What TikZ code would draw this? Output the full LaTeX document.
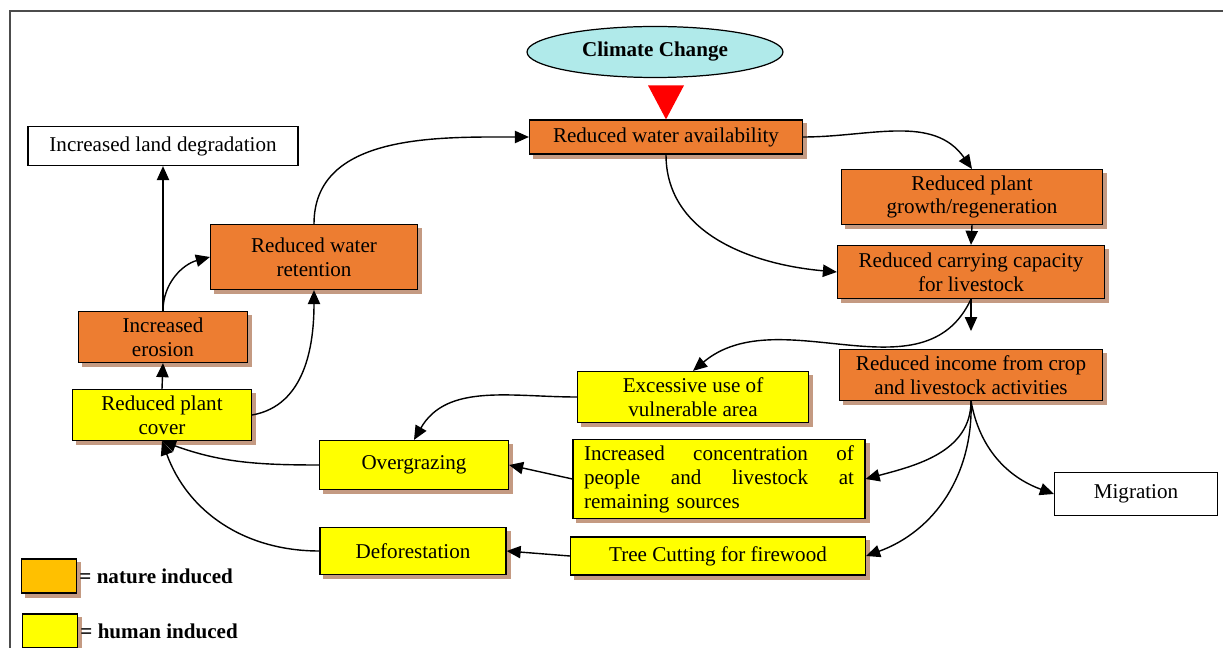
\documentclass[tikz,border=0pt]{standalone}
\usepackage{fontspec}
\setmainfont{Liberation Serif}
\usetikzlibrary{arrows.meta, shapes.geometric, shadows}

\definecolor{natureorange}{RGB}{237,125,49}
\definecolor{humanyellow}{RGB}{255,255,0}
\definecolor{legendorange}{RGB}{255,192,0}
\definecolor{climatecyan}{RGB}{176,234,234}
\definecolor{shadowbrown}{RGB}{196,154,130}

\newcommand{\fullline}[1]{\makebox[5.4cm][s]{#1}}

\begin{document}
\begin{tikzpicture}[
    x=0.02cm, y=-0.02cm,
    every node/.style={align=center, font=\fontsize{12}{13.6}\selectfont},
    boxshadow/.style={drop shadow={shadow xshift=0.08cm, shadow yshift=-0.08cm, fill=shadowbrown, draw=shadowbrown, opacity=1}},
    nature/.style={rectangle, draw=black, fill=natureorange, line width=0.7pt, boxshadow},
    human/.style={rectangle, draw=black, fill=humanyellow, line width=0.7pt, boxshadow},
    outcome/.style={rectangle, draw=black, fill=white, line width=0.7pt},
    climate/.style={ellipse, draw=black, fill=climatecyan, line width=0.7pt, minimum width=5.12cm, minimum height=1.02cm, font=\fontsize{12}{13.6}\selectfont\bfseries},
    arrow/.style={-{Triangle[length=8pt, width=7pt]}, line width=0.8pt},
    legendbox/.style={rectangle, draw=black, line width=1pt, minimum width=1.1cm, minimum height=0.68cm, boxshadow},
    legendtext/.style={right, inner sep=1pt, font=\fontsize{12}{13.6}\selectfont\bfseries}
]
\useasboundingbox (0,0) rectangle (1223,648);

% --- Frame
\draw[gray!60!black, line width=0.8pt] (10,648) -- (10,11) -- (1223,11);

% --- Source and top chain
\node[climate] (climate) at (655,52) {\raisebox{-2pt}{Climate Change}};
\node[nature, minimum width=5.46cm, minimum height=0.68cm] (water) at (666,137) {Reduced water availability};
\fill[red] (water.north) -- ++(-18,-34) -- ++(36,0) -- cycle;

\node[nature, minimum width=5.22cm, minimum height=0.98cm] (growth) at (972,197) {Reduced plant\\growth/regeneration};
\node[nature, minimum width=5.34cm, minimum height=1.06cm] (capacity) at (971,272) {Reduced carrying capacity\\for livestock};
\node[nature, minimum width=5.26cm, minimum height=1.0cm] (income) at (971,375) {Reduced income from crop\\and livestock activities};

% --- Left side (plant cover loop)
\node[outcome, minimum width=5.4cm, minimum height=0.78cm] (degradation) at (163,146) {Increased land degradation};
\node[nature, minimum width=4.14cm, minimum height=1.3cm] (retention) at (314,257) {Reduced water\\retention};
\node[nature, minimum width=3.38cm, minimum height=1.02cm] (erosion) at (163,337) {Increased\\erosion};
\node[human, minimum width=3.58cm, minimum height=1.02cm] (cover) at (162,415) {Reduced plant\\cover};

% --- Human induced pressures
\node[human, minimum width=4.62cm, minimum height=1.02cm] (excessive) at (693,397) {Excessive use of\\vulnerable area};
\node[human, minimum width=3.78cm, minimum height=0.98cm] (overgrazing) at (414,465) {Overgrazing};
\node[human, minimum width=5.84cm, minimum height=1.48cm, text width=5.4cm, align=left] (concentration) at (719,479)
    {\fullline{Increased\hfill concentration\hfill of}\\\fullline{people\hfill and\hfill livestock\hfill at}\\remaining sources};
\node[human, minimum width=3.72cm, minimum height=0.94cm] (deforestation) at (413,551) {Deforestation};
\node[human, minimum width=5.9cm, minimum height=0.76cm] (firewood) at (718,556) {Tree Cutting for firewood};
\node[outcome, minimum width=3.26cm, minimum height=0.86cm] (migration) at (1136,494) {Migration};

% --- Legend
\node[legendbox, fill=legendorange] (naturekey) at (49,576) {};
\node[legendtext] (naturelabel) at (naturekey.east) {= nature induced};
\node[legendbox, fill=humanyellow] (humankey) at (50,631) {};
\node[legendtext] (humanlabel) at (humankey.east) {= human induced};

% --- Arrows (right side)
\draw[arrow] (water.east) to[out=0, in=125] (growth.north);
\draw[arrow] (growth.south) -- (capacity.north);
\draw[arrow] (water.south) to[out=-90, in=175] (capacity.west);
\draw[arrow, shorten >=18*0.02cm] (capacity.south) -- (income.north);
\draw[arrow] (capacity.south) to[out=-115, in=40] (excessive.north);
\draw[arrow] (excessive.west) to[out=180, in=60] (overgrazing.north);
\draw[arrow] (income.south) to[out=-90, in=15] (concentration.east);
\draw[arrow] (income.south) to[out=-88, in=20] (firewood.east);
\draw[arrow] (income.south) to[out=-80, in=160] (migration.west);

% --- Arrows (bottom, towards plant cover)
\draw[arrow] (concentration.west) -- (overgrazing.east);
\draw[arrow] (firewood.west) -- (deforestation.east);
\draw[arrow] (overgrazing.west) to[out=180, in=-20] (cover.south);
\draw[arrow] (deforestation.west) to[out=180, in=-70] (cover.south);

% --- Arrows (left side)
\draw[arrow] (cover.north) -- (erosion.south);
\draw[arrow] (cover.east) to[out=10, in=-90] (retention.south);
\draw[arrow] (erosion.north) -- (degradation.south);
\draw[arrow] (erosion.north) to[out=90, in=195] (retention.west);
\draw[arrow] (retention.north) to[out=90, in=180] (water.west);

\end{tikzpicture}
\end{document}
